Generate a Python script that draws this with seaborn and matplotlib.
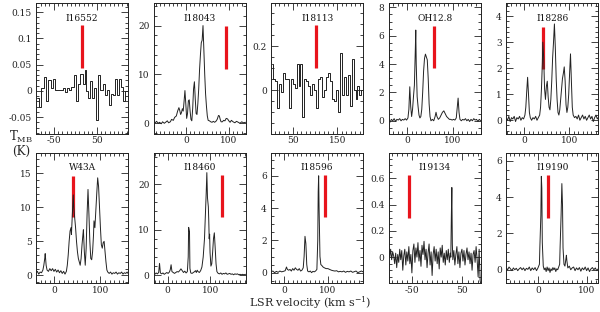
import matplotlib
matplotlib.use("Agg")
import matplotlib.pyplot as plt
import seaborn as sns
import numpy as np
from matplotlib.ticker import MultipleLocator, FuncFormatter

sns.set_style("ticks")
plt.rcParams['font.family'] = ['DejaVu Serif']
plt.rcParams['mathtext.fontset'] = 'dejavuserif'
plt.rcParams['axes.unicode_minus'] = False

# ---------------- data ----------------
names = ["I16552", "I18043", "I18113", "OH12.8", "I18286",
         "W43A", "I18460", "I18596", "I19134", "I19190"]

# red marker bars: velocity, low, high
bar_v = [17, 94.6, 101.8, 58.6, 41, 40, 126, 92.5, -55, 19.4]
bar_lo = [0.043, 11.2, 0.10, 3.7, 1.97, 8.5, 12.7, 3.43, 0.30, 2.88]
bar_hi = [0.125, 20.0, 0.295, 6.67, 3.6, 14.6, 22.0, 6.04, 0.623, 5.2]

xlims = [(-91, 123), (-75, 139), (2, 208), (-40, 160), (-41, 165),
         (-40, 160), (-33, 182), (-29, 180), (-96, 86), (-67, 124)]
ylims = [(-0.081, 0.167), (-2.1, 24.6), (-0.197, 0.395), (-0.9, 8.3), (-0.51, 4.5),
         (-1.1, 18.0), (-1.7, 26.9), (-0.64, 7.44), (-0.197, 0.796), (-0.73, 6.46)]
x_major = [100, 100, 100, 100, 100, 100, 100, 100, 100, 100]
x_offset = [50, 0, 50, 0, 0, 0, 0, 0, 50, 0]
y_major = [0.05, 10, 0.2, 2, 1, 5, 10, 2, 0.2, 2]
y_minor = [0.01, 2, 0.05, 0.5, 0.2, 1, 2, 0.5, 0.05, 0.5]
steps = [True, False, True, False, False, False, False, False, False, False]

s_i16552 = [(-87.9, -0.013), (-82.0, -0.030), (-76.2, 0.005), (-70.7, 0.026), (-65.2, -0.020),
            (-59.8, 0.020), (-54.3, 0.005), (-48.8, 0.022), (-43.0, 0.001), (-37.5, 0.001),
            (-32.0, 0.001), (-26.2, 0.005), (-21.9, -0.002), (-16.8, 0.005), (-11.3, 0.001),
            (-5.9, 0.007), (-1.2, 0.030), (3.9, -0.020), (9.8, 0.013), (14.8, 0.032),
            (19.5, 0.014), (24.2, 0.040), (28.5, 0.000), (32.8, -0.014), (37.5, 0.019),
            (42.2, -0.014), (46.9, 0.006), (51.6, -0.055), (56.3, 0.031), (61.3, 0.001),
            (66.4, 0.013), (71.1, -0.008), (75.8, 0.001), (80.5, -0.027), (85.2, -0.006),
            (89.8, -0.008), (94.5, 0.022), (99.2, -0.008), (103.9, 0.022), (108.6, 0.008),
            (113.3, -0.019), (118.0, 0.000), (122.7, 0.000)]

s_i18043 = [(-75, 0.3), (-71, 0.1), (-68, 0.4), (-64, 0.0), (-61, 0.2), (-57, -0.1), (-54, 0.3),
            (-50, 0.0), (-47, 0.2), (-43, 0.5), (-40, 0.1), (-36, 0.3), (-33, 0.8), (-29, 0.6),
            (-26, 1.2), (-22, 1.5), (-19, 2.5), (-16, 3.2), (-14, 2.6), (-12, 1.8), (-10, 2.2),
            (-8, 3.0), (-6, 2.5), (-4, 4.5), (-2, 6.7), (0, 4.0), (2, 1.0), (4, 2.0), (6, 4.6),
            (8, 4.8), (10, 2.5), (12, 0.8), (14, 0.5), (16, 3.0), (18, 7.0), (20, 8.5), (22, 5.0),
            (24, 2.0), (26, 1.8), (28, 4.0), (30, 7.0), (32, 11.0), (34, 14.0), (36, 16.5),
            (38, 17.0), (40, 20.0), (42, 15.0), (44, 10.0), (46, 6.0), (48, 3.5), (50, 1.5),
            (52, 0.6), (55, 0.5), (58, 0.3), (61, 0.2), (64, 0.4), (67, 0.2), (70, 0.4), (73, 0.8),
            (76, 1.6), (78, 1.5), (80, 0.8), (82, 0.3), (85, 0.3), (88, 0.6), (91, 0.5), (94, 1.0),
            (97, 0.9), (100, 0.5), (103, 0.2), (106, 0.6), (110, 0.3), (114, 0.1), (118, 0.4),
            (122, 0.2), (126, 0.0), (130, 0.3), (134, 0.1), (139, 0.2)]

v_i18113 = [4, 8.4, 12.8, 17.2, 21.6, 26, 30.4, 34.8, 39.2, 43.6, 48, 52.4, 56.8, 61.2, 65.6,
            70, 74.4, 78.8, 83.2, 87.6, 92, 96.4, 100.8, 105.2, 109.6, 114, 118.4, 122.8, 127.2,
            131.6, 136, 140.4, 144.8, 149.2, 153.6, 158, 162.4, 166.8, 171.2, 175.6, 180, 184.4,
            188.8, 193.2, 197.6, 202, 206.4]
t_i18113 = [0.12, 0.05, 0.04, -0.08, 0.03, -0.01, 0.08, 0.05, 0.05, -0.08, 0.05, 0.03, 0.01,
            0.12, 0.02, 0.12, -0.12, 0.05, 0.04, 0.02, -0.02, 0.03, 0.0, -0.08, 0.05, 0.06,
            -0.03, 0.0, 0.06, 0.08, 0.04, -0.04, -0.05, 0.0, -0.1, 0.17, -0.02, 0.06, -0.02,
            0.07, -0.07, 0.14, 0.0, -0.04, 0.02, -0.02, 0.0]

s_oh128 = [(-40, 0.1), (-37, -0.1), (-34, 0.1), (-31, 0.0), (-28, 0.15), (-25, -0.05), (-22, 0.1),
           (-19, 0.05), (-16, 0.15), (-13, 0.0), (-10, 0.1), (-7, 0.05), (-4, 0.15), (-1, 0.05),
           (2, 0.2), (4, 0.8), (6, 2.4), (8, 1.0), (10, 0.3), (12, 0.8), (14, 1.7), (16, 2.5),
           (18, 5.0), (19, 6.4), (20, 4.0), (22, 1.7), (24, 1.0), (26, 0.4), (28, 0.2), (30, 0.3),
           (32, 0.8), (34, 2.0), (36, 3.5), (38, 4.4), (40, 4.7), (42, 4.5), (44, 4.3), (46, 3.0),
           (48, 1.2), (50, 0.3), (52, 0.0), (55, 0.1), (58, 0.0), (61, 0.3), (63, 0.6), (65, 0.3),
           (68, 0.1), (71, 0.2), (74, 0.4), (77, 0.6), (80, 0.7), (83, 0.5), (86, 0.3), (89, 0.2),
           (92, 0.1), (95, 0.1), (98, 0.05), (101, 0.1), (104, 0.05), (107, 0.2), (109, 0.9),
           (111, 1.6), (113, 0.6), (115, 0.1), (118, 0.0), (121, 0.1), (124, 0.05), (127, 0.15),
           (130, 0.0), (133, 0.1), (136, -0.05), (139, 0.1), (142, 0.0), (145, 0.15), (148, 0.05),
           (151, 0.1), (154, -0.05), (157, 0.1), (160, 0.0)]

s_i18286 = [(-41, 0.1), (-38, 0.0), (-35, 0.15), (-32, -0.05), (-29, 0.1), (-26, 0.05), (-23, 0.15),
            (-20, -0.05), (-17, 0.1), (-14, 0.05), (-11, 0.15), (-8, 0.0), (-5, 0.1), (-2, 0.05),
            (1, 0.2), (3, 0.5), (5, 1.1), (7, 1.65), (9, 1.0), (11, 0.3), (13, 0.1), (16, 0.0),
            (19, 0.1), (22, 0.05), (25, 0.15), (28, 0.0), (31, 0.1), (34, 0.2), (36, 0.5),
            (38, 1.2), (40, 2.2), (41, 3.0), (43, 2.4), (45, 1.2), (47, 0.8), (49, 1.3), (51, 1.5),
            (53, 0.9), (55, 0.5), (57, 0.4), (59, 0.8), (61, 1.5), (63, 2.4), (65, 3.0), (67, 3.7),
            (69, 2.8), (71, 1.6), (73, 0.8), (75, 0.3), (77, 0.2), (79, 0.4), (81, 0.8), (83, 1.2),
            (85, 1.6), (87, 1.8), (89, 2.05), (91, 1.5), (93, 0.6), (95, 0.3), (97, 0.5), (99, 1.0),
            (101, 1.8), (103, 2.55), (105, 1.5), (107, 0.5), (109, 0.2), (112, 0.1), (115, 0.15),
            (118, 0.05), (121, 0.2), (124, 0.0), (127, 0.1), (130, 0.2), (133, 0.05), (136, 0.15),
            (139, 0.0), (142, 0.1), (145, 0.2), (148, 0.05), (151, 0.15), (154, -0.05), (157, 0.1),
            (160, 0.2), (163, 0.05), (165, 0.1)]

s_w43a = [(-40, 0.3), (-37, 0.6), (-34, 0.2), (-31, 0.5), (-28, 0.4), (-25, 0.8), (-23, 1.5),
          (-21, 2.5), (-20, 3.2), (-18, 1.5), (-16, 0.8), (-13, 0.6), (-10, 1.0), (-7, 0.7),
          (-4, 1.0), (-1, 0.6), (2, 0.9), (5, 0.5), (8, 0.8), (11, 0.4), (14, 0.7), (17, 0.3),
          (20, 0.6), (23, 0.2), (26, 0.6), (28, 1.5), (30, 3.0), (32, 5.0), (34, 6.5), (36, 7.0),
          (37, 6.0), (39, 9.0), (41, 11.8), (42, 10.0), (44, 8.5), (46, 7.0), (48, 5.0), (50, 3.5),
          (52, 2.5), (54, 2.0), (56, 1.5), (58, 2.5), (60, 4.5), (62, 6.0), (63, 6.7), (65, 3.5),
          (67, 1.5), (69, 4.0), (71, 9.0), (73, 12.6), (75, 9.0), (77, 5.0), (79, 2.5), (81, 2.3),
          (83, 3.5), (85, 6.0), (86, 8.0), (88, 7.0), (90, 9.5), (92, 12.0), (94, 14.3), (96, 13.0),
          (98, 10.0), (100, 7.0), (102, 4.5), (104, 4.0), (106, 4.8), (108, 5.0), (110, 3.5),
          (112, 2.0), (114, 0.8), (116, 0.5), (119, 0.3), (122, 0.5), (125, 0.2), (128, 0.4),
          (131, 0.3), (134, 0.5), (137, 0.2), (140, 0.4), (143, 0.3), (146, 0.5), (149, 0.2),
          (152, 0.4), (155, 0.3), (158, 0.5), (160, 0.3)]

s_i18460 = [(-33, 0.4), (-30, 0.2), (-27, 0.5), (-24, 0.3), (-21, 0.6), (-19, 2.6), (-17, 0.5),
            (-14, 0.3), (-11, 0.5), (-8, 0.2), (-5, 0.4), (-2, 0.6), (1, 0.4), (4, 0.7), (6, 1.2),
            (8, 2.3), (10, 0.8), (13, 0.6), (16, 0.4), (19, 0.6), (22, 0.8), (25, 0.7), (28, 1.0),
            (31, 1.4), (34, 1.0), (37, 0.6), (40, 0.9), (43, 0.5), (46, 0.8), (48, 4.0), (49, 10.5),
            (51, 9.5), (52, 1.5), (54, 0.5), (57, 0.4), (60, 0.6), (63, 0.8), (65, 1.0), (67, 0.6),
            (69, 1.1), (71, 0.8), (74, 0.6), (77, 1.0), (80, 1.8), (83, 4.0), (86, 8.0), (88, 13.0),
            (90, 18.0), (91.5, 22.5), (93, 17.0), (95, 15.0), (96, 12.0), (97, 8.0), (98, 9.0),
            (99, 5.0), (101, 2.0), (103, 2.5), (105, 5.0), (107, 8.0), (109, 9.3), (111, 6.0),
            (113, 2.5), (115, 0.8), (118, 0.4), (121, 0.3), (124, 0.5), (127, 0.2), (130, 0.4),
            (133, 0.3), (136, 0.5), (139, 0.2), (142, 0.3), (145, 0.4), (148, 0.2), (151, 0.3),
            (154, 0.1), (157, 0.3), (160, 0.2), (163, 0.3), (166, 0.1), (169, 0.2), (172, 0.1),
            (175, 0.2), (178, 0.1), (182, 0.2)]

s_i18596 = [(-29, 0.05), (-25, 0.1), (-21, 0.0), (-17, 0.08), (-13, 0.02), (-9, 0.1), (-5, 0.05),
            (-1, 0.08), (3, 0.12), (6, 0.35), (8, 0.2), (11, 0.15), (14, 0.2), (17, 0.1), (20, 0.25),
            (23, 0.15), (26, 0.3), (29, 0.2), (32, 0.15), (35, 0.25), (38, 0.1), (41, 0.15),
            (44, 0.3), (46, 1.0), (48, 2.25), (50, 1.8), (52, 0.5), (54, 0.1), (57, 0.05), (60, 0.1),
            (63, 0.0), (66, 0.08), (69, 0.05), (72, 0.1), (75, 0.2), (77, 2.0), (78, 5.0), (79, 6.0),
            (80, 4.0), (82, 1.0), (84, 0.5), (86, 0.45), (89, 0.35), (92, 0.3), (96, 0.25),
            (100, 0.25), (104, 0.2), (108, 0.15), (112, 0.12), (116, 0.1), (120, 0.12), (124, 0.05),
            (128, 0.08), (132, 0.05), (136, 0.1), (140, 0.02), (144, 0.08), (148, 0.05), (152, 0.1),
            (156, 0.02), (160, 0.06), (164, 0.1), (168, 0.0), (172, 0.05), (176, 0.1), (180, 0.05)]

s_i19134 = [(-96, 0.05), (-94, 0.0), (-92, 0.06), (-90, -0.02), (-88, 0.04), (-86, 0.01), (-84, -0.05),
            (-82, 0.03), (-80, -0.08), (-78, 0.02), (-76, -0.04), (-74, 0.06), (-72, -0.02),
            (-70, 0.05), (-68, -0.1), (-66, 0.01), (-64, 0.06), (-62, -0.06), (-60, 0.04),
            (-58, -0.03), (-56, 0.08), (-54, -0.05), (-52, 0.02), (-50, -0.12), (-48, 0.05),
            (-46, 0.1), (-44, -0.04), (-42, 0.07), (-40, 0.0), (-38, 0.11), (-36, -0.03), (-34, 0.05),
            (-32, -0.07), (-30, 0.09), (-28, 0.02), (-26, 0.12), (-24, -0.02), (-22, 0.06),
            (-20, -0.08), (-18, 0.03), (-16, 0.1), (-14, -0.06), (-12, 0.04), (-10, -0.14), (-8, 0.02),
            (-6, 0.08), (-4, -0.03), (-2, 0.06), (0, -0.05), (2, 0.04), (4, -0.09), (6, 0.07),
            (8, 0.0), (10, 0.09), (12, -0.04), (14, 0.03), (16, -0.06), (18, 0.05), (20, -0.02),
            (22, 0.06), (24, -0.04), (26, 0.03), (27, 0.0), (28, 0.3), (29, 0.53), (30, 0.1),
            (31, -0.02), (33, 0.05), (35, -0.06), (37, 0.02), (39, 0.08), (41, -0.05), (43, 0.04),
            (45, -0.08), (47, 0.03), (49, 0.06), (51, -0.03), (53, 0.05), (55, -0.06), (57, 0.02),
            (59, 0.07), (61, -0.02), (63, 0.04), (65, -0.05), (67, 0.03), (69, -0.1), (71, 0.02),
            (73, 0.05), (75, -0.04), (77, 0.08), (79, -0.02), (81, -0.15), (83, 0.06), (85, -0.18),
            (86, -0.2)]

s_i19190 = [(-67, 0.1), (-64, 0.0), (-61, 0.15), (-58, 0.05), (-55, -0.05), (-52, 0.1), (-49, 0.0),
            (-46, 0.08), (-43, -0.05), (-40, 0.05), (-37, 0.12), (-34, 0.0), (-31, 0.1), (-28, -0.05),
            (-25, 0.08), (-22, 0.02), (-19, 0.15), (-16, -0.05), (-13, 0.1), (-10, 0.0), (-7, 0.12),
            (-4, -0.05), (-1, 0.1), (2, 0.3), (3, 1.3), (5, 3.0), (6, 5.15), (7, 4.5), (8, 1.5),
            (10, 0.2), (12, 0.0), (14, 0.1), (16, -0.1), (18, 0.15), (20, -0.05), (22, 0.1),
            (24, -0.15), (26, 0.05), (28, -0.05), (30, 0.12), (32, 0.0), (34, 0.1), (36, -0.1),
            (38, 0.05), (40, 0.0), (42, 0.15), (44, 0.3), (45, 1.3), (47, 3.0), (48.6, 4.75),
            (50, 3.5), (51, 1.2), (53, 0.3), (55, 0.2), (57, 0.6), (58, 0.8), (59, 0.5), (61, 0.1),
            (64, 0.2), (67, 0.0), (70, 0.1), (73, 0.15), (76, -0.05), (79, 0.1), (82, 0.0),
            (85, 0.12), (88, -0.08), (91, 0.1), (94, 0.0), (97, 0.15), (100, -0.05), (103, 0.1),
            (106, -0.1), (109, 0.05), (112, 0.12), (115, 0.0), (118, 0.1), (121, -0.05), (124, 0.05)]

spectra = [list(zip(*s_i16552)), list(zip(*s_i18043)), (v_i18113, t_i18113),
           list(zip(*s_oh128)), list(zip(*s_i18286)), list(zip(*s_w43a)),
           list(zip(*s_i18460)), list(zip(*s_i18596)), list(zip(*s_i19134)),
           list(zip(*s_i19190))]

# ---------------- figure ----------------
fig, axes = plt.subplots(2, 5, figsize=(6.0, 3.12), dpi=100,
                         gridspec_kw=dict(left=0.06, right=0.997, top=0.990, bottom=0.093,
                                          wspace=0.277, hspace=0.146))
fmt = FuncFormatter(lambda v, p: "%g" % round(v, 6))

for i, ax in enumerate(axes.flat):
    v, t = spectra[i]
    ax.vlines(bar_v[i], bar_lo[i], bar_hi[i], color="#e8141c", lw=2.3, zorder=1)
    sns.lineplot(x=np.array(v, float), y=np.array(t, float), ax=ax, color="#222222",
                 lw=0.7, estimator=None, sort=False,
                 drawstyle="steps-mid" if steps[i] else "default", zorder=2)
    ax.set_xlim(*xlims[i])
    ax.set_ylim(*ylims[i])
    ax.xaxis.set_major_locator(MultipleLocator(x_major[i], offset=x_offset[i]))
    ax.xaxis.set_minor_locator(MultipleLocator(10))
    ax.yaxis.set_major_locator(MultipleLocator(y_major[i]))
    ax.yaxis.set_minor_locator(MultipleLocator(y_minor[i]))
    ax.xaxis.set_major_formatter(fmt)
    ax.yaxis.set_major_formatter(fmt)
    ax.tick_params(which="both", direction="in", top=True, right=True,
                   labelsize=6.5, width=0.6, colors="#222222")
    ax.tick_params(axis="x", pad=2)
    ax.tick_params(axis="y", pad=3)
    ax.tick_params(which="major", length=5)
    ax.tick_params(which="minor", length=2.5)
    for s in ax.spines.values():
        s.set_linewidth(0.7)
        s.set_color("#222222")
    ax.set_xlabel("")
    ax.set_ylabel("")
    ax.text(0.5, 0.885, names[i], transform=ax.transAxes, ha="center", va="center",
            fontsize=6.5, color="#111111")

fig.text(0.035, 0.561, r"T$_{\rm MB}$", ha="center", va="center", fontsize=8.5)
fig.text(0.035, 0.513, "(K)", ha="center", va="center", fontsize=8.5)
fig.text(0.517, 0.030, r"LSR velocity (km s$^{-1}$)", ha="center", va="center", fontsize=8)

fig.savefig("out.png", dpi=100)
